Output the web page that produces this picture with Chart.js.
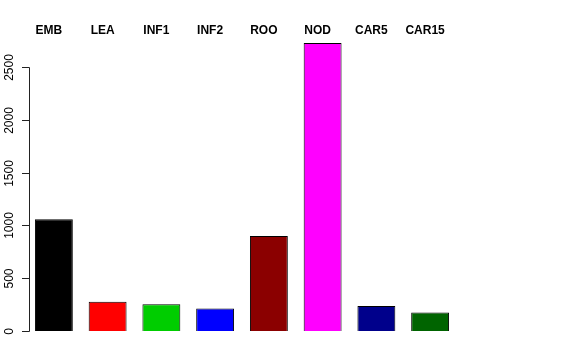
<!DOCTYPE html>
<html>
<head>
<meta charset="utf-8">
<script src="https://cdn.jsdelivr.net/npm/chart.js@4"></script>
<style>
  html, body { margin: 0; padding: 0; background: #fff; }
  #wrap { width: 576px; height: 360px; }
</style>
</head>
<body>
<div id="wrap"><canvas id="barChart" width="576" height="360"></canvas></div>
<script>
// chart data
const tissues = ['EMB', 'LEA', 'INF1', 'INF2', 'ROO', 'NOD', 'CAR5', 'CAR15'];
const counts = [1059, 278, 253, 214, 900, 2727, 236, 176];
const barColors = ['#000000', '#ff0000', '#00cd00', '#0000ff', '#8b0000', '#ff00ff', '#00008b', '#006400'];
const yTicks = [0, 500, 1000, 1500, 2000, 2500];

// R-style axis + labels drawn on top of the scales
const rAxisPlugin = {
    id: 'rAxis',
    afterDraw(chart) {
        const ctx = chart.ctx;
        const x = chart.scales.x;
        const y = chart.scales.y;
        const axisX = chart.chartArea.left + 2;

        ctx.save();
        ctx.strokeStyle = '#222';
        ctx.lineWidth = 1;

        // y axis line from first to last tick
        ctx.beginPath();
        ctx.moveTo(axisX + 0.5, Math.round(y.getPixelForValue(yTicks[0])) + 0.5);
        ctx.lineTo(axisX + 0.5, Math.round(y.getPixelForValue(yTicks[yTicks.length - 1])) + 0.5);
        ctx.stroke();

        ctx.fillStyle = '#000';
        ctx.font = '12px "Liberation Sans", Arial, sans-serif';
        ctx.textAlign = 'center';
        ctx.textBaseline = 'alphabetic';
        yTicks.forEach(v => {
            const py = Math.round(y.getPixelForValue(v)) + 0.5;
            ctx.beginPath();
            ctx.moveTo(axisX - 7, py);
            ctx.lineTo(axisX + 0.5, py);
            ctx.stroke();

            ctx.save();
            ctx.translate(13, py);
            ctx.rotate(-Math.PI / 2);
            ctx.fillText(String(v), 0, 0);
            ctx.restore();
        });

        // tissue names across the top
        ctx.font = 'bold 12px "Liberation Sans", Arial, sans-serif';
        tissues.forEach((name, i) => {
            ctx.fillText(name, x.getPixelForValue(i) - 5, 34);
        });
        ctx.restore();
    }
};

new Chart(document.getElementById('barChart'), {
    type: 'bar',
    data: {
        labels: tissues,
        datasets: [{
            data: counts,
            backgroundColor: barColors,
            borderColor: '#000',
            borderWidth: 1,
            barPercentage: 0.705,
            categoryPercentage: 1.0
        }]
    },
    options: {
        responsive: false,
        animation: false,
        layout: {
            padding: { left: 27, right: 119, top: 30, bottom: 29 }
        },
        scales: {
            x: { display: false, offset: true },
            y: { display: false, min: 0, max: 2850 }
        },
        plugins: {
            legend: { display: false },
            tooltip: { enabled: false }
        }
    },
    plugins: [rAxisPlugin]
});
</script>
</body>
</html>
